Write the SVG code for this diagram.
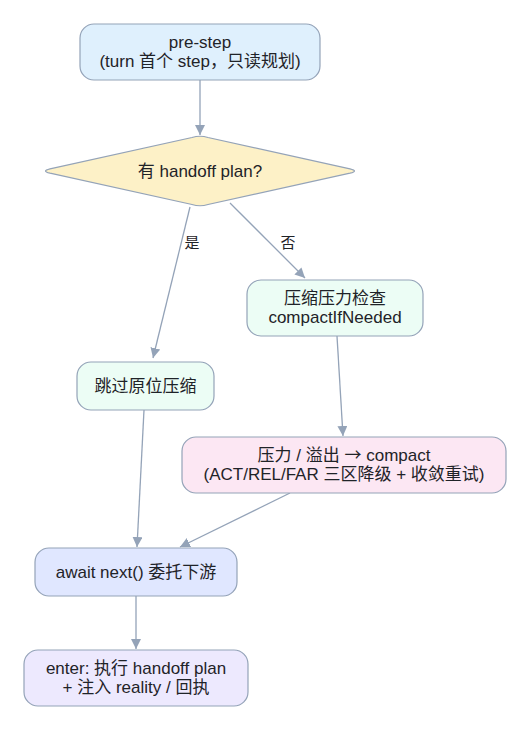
<svg xmlns="http://www.w3.org/2000/svg" width="530" height="731" viewBox="0 0 530 731">
<style>
text{font-family:"Liberation Sans","Noto Sans CJK SC",sans-serif;font-size:17px;fill:#1f2328;text-anchor:middle}
.ar{font-family:"Noto Sans CJK SC",sans-serif}
.n{stroke:#94a3b8;stroke-width:1.2}
.e{stroke:#94a3b8;stroke-width:1.3;fill:none}
</style>
<defs>
<marker id="ah" viewBox="0 0 10 10" refX="10" refY="5" markerWidth="10" markerHeight="10" markerUnits="userSpaceOnUse" orient="auto">
<path d="M0,0 L10,5 L0,10 z" fill="#94a3b8"/>
</marker>
</defs>
<rect width="530" height="731" fill="#ffffff"/>
<g id="edges">
<path class="e" d="M200,80 L200,135" marker-end="url(#ah)"/>
<path class="e" d="M190,207 L153,358" marker-end="url(#ah)"/>
<path class="e" d="M230,203 L305,278" marker-end="url(#ah)"/>
<path class="e" d="M337,336 L343,436" marker-end="url(#ah)"/>
<path class="e" d="M144,410 L137,547" marker-end="url(#ah)"/>
<path class="e" d="M290,493 L180,547" marker-end="url(#ah)"/>
<path class="e" d="M136,596 L136,649" marker-end="url(#ah)"/>
<text x="192" y="248" style="font-size:15px">是</text>
<text x="288" y="248" style="font-size:15px">否</text>
</g>
<g id="prestep">
<rect class="n" x="80" y="24" width="240" height="56" rx="14" fill="#dff0fd"/>
<text x="200" y="48">pre-step</text>
<text x="200" y="67">(turn 首个 step，只读规划)</text>
</g>
<g id="decision">
<path class="n" d="M192,137.5 Q200,135 208,137.5 L350,168.8 Q359,171 350,173.2 L208,204.5 Q200,207 192,204.5 L50,173.2 Q41,171 50,168.8 Z" fill="#fdf1c7"/>
<text x="200" y="177">有 handoff plan?</text>
</g>
<g id="check">
<rect class="n" x="247" y="280" width="176" height="56" rx="14" fill="#ecfdf5"/>
<text x="335" y="304">压缩压力检查</text>
<text x="335" y="323">compactIfNeeded</text>
</g>
<g id="skip">
<rect class="n" x="77" y="362" width="137" height="48" rx="14" fill="#ecfdf5"/>
<text x="145.5" y="392">跳过原位压缩</text>
</g>
<g id="compact">
<rect class="n" x="182" y="437" width="324" height="56" rx="14" fill="#fce7f3"/>
<text x="344" y="461">压力 / 溢出 <tspan class="ar">→</tspan> compact</text>
<text x="344" y="480">(ACT/REL/FAR 三区降级 + 收敛重试)</text>
</g>
<g id="await">
<rect class="n" x="35" y="548" width="202" height="48" rx="14" fill="#e0e7ff"/>
<text x="136" y="578">await next() 委托下游</text>
</g>
<g id="enter">
<rect class="n" x="24" y="650" width="224" height="56" rx="14" fill="#ede9fe"/>
<text x="136" y="674">enter: 执行 handoff plan</text>
<text x="136" y="693">+ 注入 reality / 回执</text>
</g>
</svg>
